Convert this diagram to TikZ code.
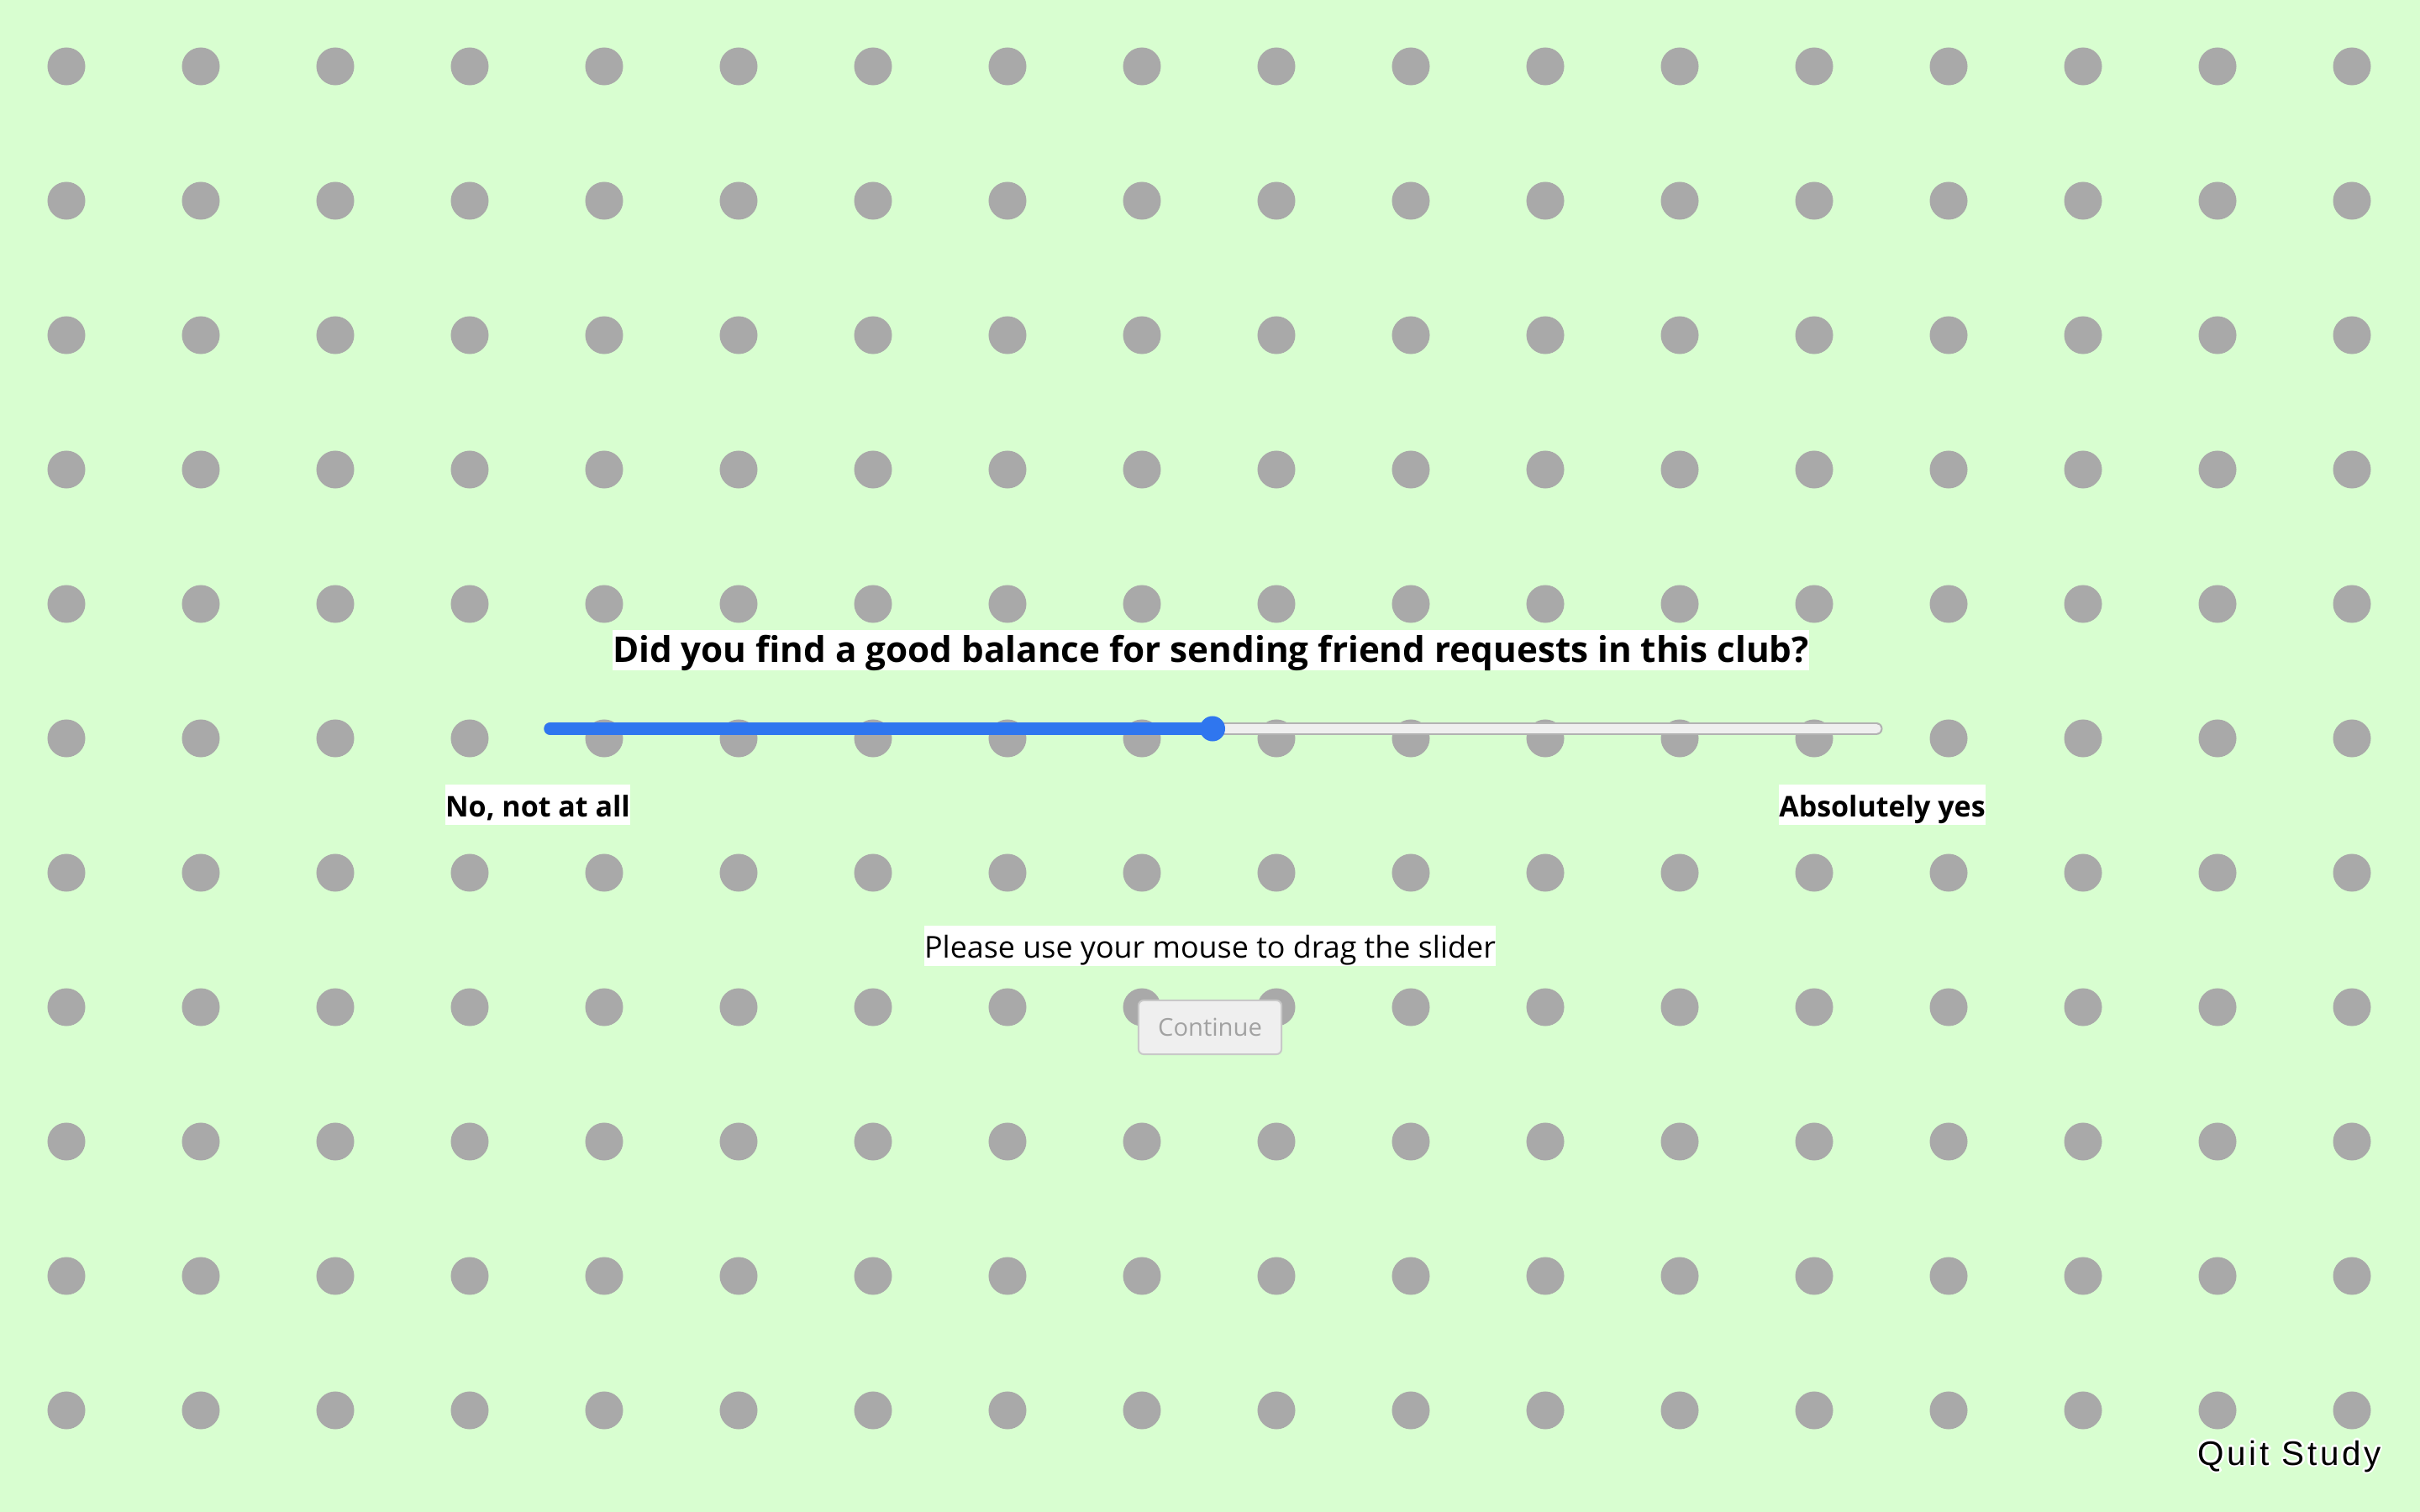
\documentclass[tikz,border=0pt]{standalone}
\usepackage{fontspec}
\setmainfont{Open Sans}
\newfontfamily\quitfont[LetterSpace=9]{Liberation Sans}
\definecolor{bggreen}{HTML}{D8FED0}
\definecolor{dotgray}{HTML}{A9A9A9}
\definecolor{slideblue}{HTML}{2F76EF}
\definecolor{trackgray}{HTML}{EFEFEF}
\definecolor{trackedge}{HTML}{B2B2B2}
\definecolor{btnedge}{HTML}{C8C8C8}
\definecolor{btntext}{HTML}{A2A2A2}
\begin{document}
\begin{tikzpicture}[x=0.01cm,y=-0.01cm,line cap=round,
  lbl/.style={fill=white,inner xsep=0pt,inner ysep=0pt,text height=1.07em,text depth=0.29em,anchor=base},
  quitlbl/.style={anchor=base west,inner sep=0pt,font=\quitfont\fontsize{11.5pt}{13pt}\selectfont}]
\def \w{2880};
\def \h{1800};
\fill[bggreen] (0,0) rectangle (\w,\h);
\useasboundingbox (0,0) rectangle (\w,\h);
\foreach \i in {0,...,17}{\foreach \j in {0,...,10}{\fill[dotgray] (79+160*\i,79+160*\j) circle(0.225cm);}}
\node[lbl,font=\fontsize{12pt}{14pt}\selectfont\bfseries] (title) at (1441,788) {Did you find a good balance for sending friend requests in this club?};
\coordinate (s0) at (655,867.5);
\coordinate (s1) at (2233,867.5);
\coordinate (knob) at (1443,867.5);
\draw[trackedge,line width=0.15cm] (s0) -- (s1);
\draw[trackgray,line width=0.11cm] (s0) -- (s1);
\draw[slideblue,line width=0.155cm] (s0) -- (knob);
\fill[slideblue] (knob) circle(0.15cm);
\node[lbl,font=\fontsize{9.67pt}{11pt}\selectfont\bfseries] (lo) at (640,972) {No, not at all};
\node[lbl,font=\fontsize{9.67pt}{11pt}\selectfont\bfseries] (hi) at (2240,972) {Absolutely yes};
\node[lbl,font=\fontsize{10.2pt}{12pt}\selectfont] (hint) at (1440,1140) {Please use your mouse to drag the slider};
\node[draw=btnedge,fill=trackgray,line width=0.02cm,rounded corners=0.06cm,minimum width=1.7cm,minimum height=0.64cm,inner sep=0pt,text=btntext,font=\fontsize{8.3pt}{10pt}\selectfont] (cont) at (1440,1223) {Continue};
\foreach \a in {0,45,...,315}{\node[quitlbl,white] at ([shift={(\a:2.5)}]2615,1744) {Quit Study};}
\node[quitlbl] (quit) at (2615,1744) {Quit Study};
\end{tikzpicture}
\end{document}
